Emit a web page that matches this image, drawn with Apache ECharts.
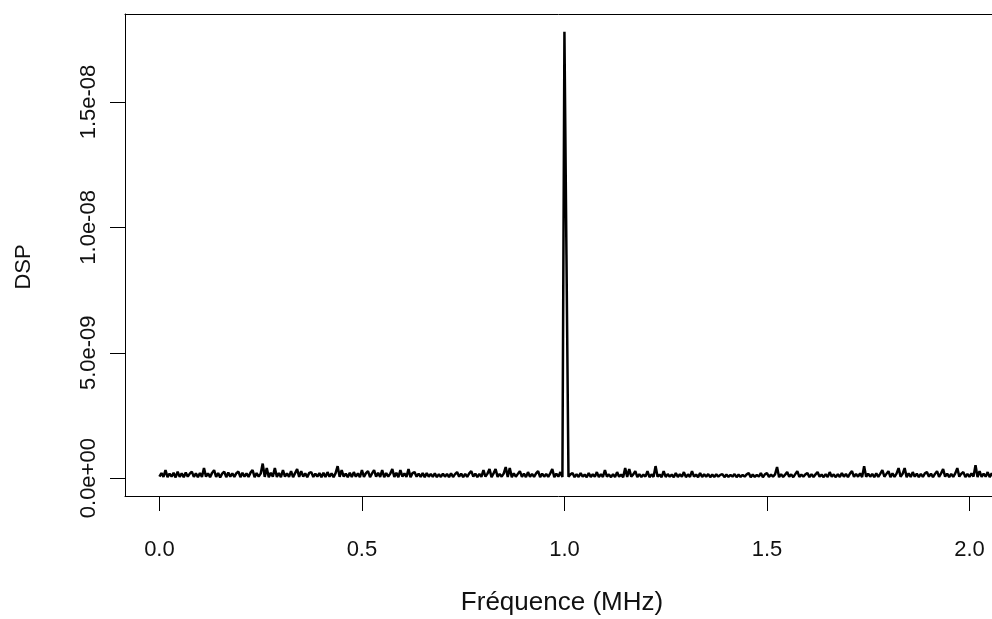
<!DOCTYPE html>
<html>
<head>
<meta charset="utf-8">
<script src="https://cdn.jsdelivr.net/npm/echarts@6/dist/echarts.min.js"></script>
<style>html,body{margin:0;padding:0;background:#fff}#c{width:992px;height:619px}</style>
</head>
<body>
<div id="c"></div>
<script>
// Frequency grid (MHz): uniform step starting at 0
const freqStartMHz = 0;
const freqStepMHz = 0.005;
// DSP values, in units of 1e-10
const dspE10 = [
0.6,2.0,0.5,3.2,0.4,1.8,0.6,2.1,0.3,2.6,0.5,1.9,0.4,2.2,0.6,1.8,2.6,0.5,1.9,0.4,
2.0,0.5,4.0,0.6,1.9,0.4,2.1,3.2,0.5,2.0,0.3,1.8,2.6,0.4,2.2,0.6,1.9,0.5,2.0,2.6,
0.4,2.1,0.6,1.9,0.5,2.2,3.2,0.4,2.0,0.6,1.8,5.8,0.5,4.0,0.4,2.1,0.6,4.0,0.5,2.0,
0.4,3.2,0.6,1.9,0.5,2.8,0.4,2.0,3.6,0.5,2.8,0.6,1.9,0.4,2.1,2.4,0.5,1.8,0.6,2.0,
0.4,2.1,0.5,2.4,0.6,1.9,0.4,2.0,4.8,0.5,3.2,0.6,1.8,0.4,2.1,0.5,2.4,0.6,1.9,0.4,
3.2,0.5,2.0,2.8,0.4,1.9,3.2,0.6,2.1,0.5,3.2,0.4,2.0,0.6,1.8,3.6,0.5,2.1,0.4,3.2,
0.6,1.9,0.5,3.6,0.4,2.0,2.4,0.6,1.8,0.5,2.0,0.4,2.0,0.6,1.7,0.5,1.9,0.4,1.6,0.5,
1.8,0.6,1.7,0.4,1.9,0.5,1.6,2.4,0.6,1.8,0.4,1.7,0.5,1.9,2.8,0.6,1.8,0.4,1.7,0.5,
3.2,0.6,1.8,3.6,0.4,1.9,3.6,0.5,1.7,0.6,1.8,4.4,0.5,4.0,0.4,1.9,0.6,1.7,2.8,0.5,
1.8,0.4,2.4,0.6,1.7,0.5,1.9,2.8,0.4,1.8,0.6,1.7,0.5,1.9,3.6,0.4,1.8,0.6,2.4,0.5,
178,89,0.6,1.5,2.0,0.4,1.6,0.5,2.0,0.6,1.4,0.4,2.0,0.5,1.5,0.6,2.4,0.4,1.6,0.5,
3.2,0.6,1.5,0.4,1.6,0.5,2.4,0.6,1.4,0.4,4.0,0.5,3.6,0.6,1.5,2.8,0.4,1.6,0.5,1.4,
0.6,2.8,0.4,1.5,0.5,4.8,0.6,1.4,0.4,2.8,0.5,1.6,0.6,1.4,0.4,2.0,0.5,1.5,0.6,2.4,
0.4,1.5,0.5,2.8,0.6,1.4,0.4,2.0,0.5,1.5,0.6,1.6,0.4,1.4,0.5,1.5,0.6,1.3,1.6,0.4,
1.4,0.5,1.3,0.6,1.6,0.4,1.4,0.5,1.3,0.6,1.5,2.0,0.4,1.4,0.5,1.3,0.6,2.0,0.4,1.5,
2.0,0.5,1.4,0.6,1.5,4.4,0.4,1.6,0.5,1.4,2.4,0.6,1.5,0.4,1.6,2.8,0.5,1.4,0.6,1.5,
2.0,0.4,1.6,0.5,1.5,2.4,0.6,1.4,0.4,1.6,0.5,2.4,0.6,1.5,0.4,1.6,0.5,2.0,0.6,1.7,
0.4,1.8,2.8,0.5,1.7,0.6,1.9,0.4,4.8,0.5,1.8,0.6,1.7,0.4,1.9,0.5,1.8,3.2,0.6,1.7,
2.8,0.4,1.9,0.5,1.8,4.0,0.6,1.7,4.0,0.4,1.9,0.5,2.4,0.6,1.8,0.4,1.7,0.5,1.9,2.4,
0.6,1.8,0.4,1.7,2.8,0.5,1.9,3.6,0.6,1.8,0.4,1.7,0.5,1.9,4.0,0.6,1.8,2.4,0.4,1.7,
0.5,1.9,0.6,5.2,0.4,2.8,0.5,1.8,0.6,2.4,0.4,1.9,0.5,1.7,0.6,1.8,0.4,2.0,0.5,1.7,
0.6
];
const xTicks = [0, 0.5, 1.0, 1.5, 2.0];
const yTicksE10 = [0, 50, 100, 150];
const xTitle = 'Fréquence (MHz)';
const yTitle = 'DSP';

const seriesData = dspE10.map((v, i) => [freqStartMHz + i * freqStepMHz, v]);

function sci(vE10) {
  const v = vE10 * 1e-10;
  if (v === 0) return '0.0e+00';
  let e = Math.floor(Math.log10(Math.abs(v)) + 1e-9);
  let m = v / Math.pow(10, e);
  const sign = e < 0 ? '-' : '+';
  const ea = Math.abs(e);
  return m.toFixed(1) + 'e' + sign + (ea < 10 ? '0' : '') + ea;
}

const FONT = 'Liberation Sans, Arial, sans-serif';
const chart = echarts.init(document.getElementById('c'), null, {renderer: 'canvas'});
const axisLineStyle = {color: '#000', width: 1};
chart.setOption({
  animation: false,
  backgroundColor: '#fff',
  grid: {left: 125, top: 14, right: 0, height: 482, show: false, outerBoundsMode: 'none', containLabel: false},
  xAxis: [{
    type: 'value', min: -0.085, max: 2.0557, position: 'bottom',
    splitLine: {show: false},
    axisLine: {show: true, onZero: false, lineStyle: axisLineStyle},
    axisTick: {show: true, length: 15, inside: false, lineStyle: axisLineStyle, customValues: xTicks},
    axisLabel: {show: true, margin: 43, color: '#111', fontSize: 22, fontFamily: FONT, customValues: xTicks,
      formatter: v => v.toFixed(1)}
  }, {
    type: 'value', min: -0.085, max: 2.0557, position: 'top',
    splitLine: {show: false},
    axisLine: {show: true, onZero: false, lineStyle: axisLineStyle},
    axisTick: {show: false}, axisLabel: {show: false}
  }],
  yAxis: {
    type: 'value', min: -7.12, max: 185.1,
    splitLine: {show: false},
    axisLine: {show: true, onZero: false, lineStyle: axisLineStyle},
    axisTick: {show: true, length: 15, inside: false, lineStyle: axisLineStyle, customValues: yTicksE10},
    axisLabel: {show: true, rotate: 90, margin: 25, color: '#111', fontSize: 22, fontFamily: FONT, customValues: yTicksE10,
      formatter: v => sci(v)}
  },
  series: [{
    type: 'line', xAxisIndex: 0, data: seriesData, showSymbol: false, symbol: 'none',
    lineStyle: {color: '#000', width: 2.5}, clip: true
  }],
  graphic: [
    {type: 'text', x: 562, y: 603, style: {text: xTitle, fill: '#111', font: '26px ' + FONT, textAlign: 'center', textVerticalAlign: 'middle'}},
    {type: 'text', x: 24, y: 267, rotation: Math.PI / 2, style: {text: yTitle, fill: '#111', font: '22px ' + FONT, textAlign: 'center', textVerticalAlign: 'middle'}}
  ]
});
</script>
</body>
</html>
